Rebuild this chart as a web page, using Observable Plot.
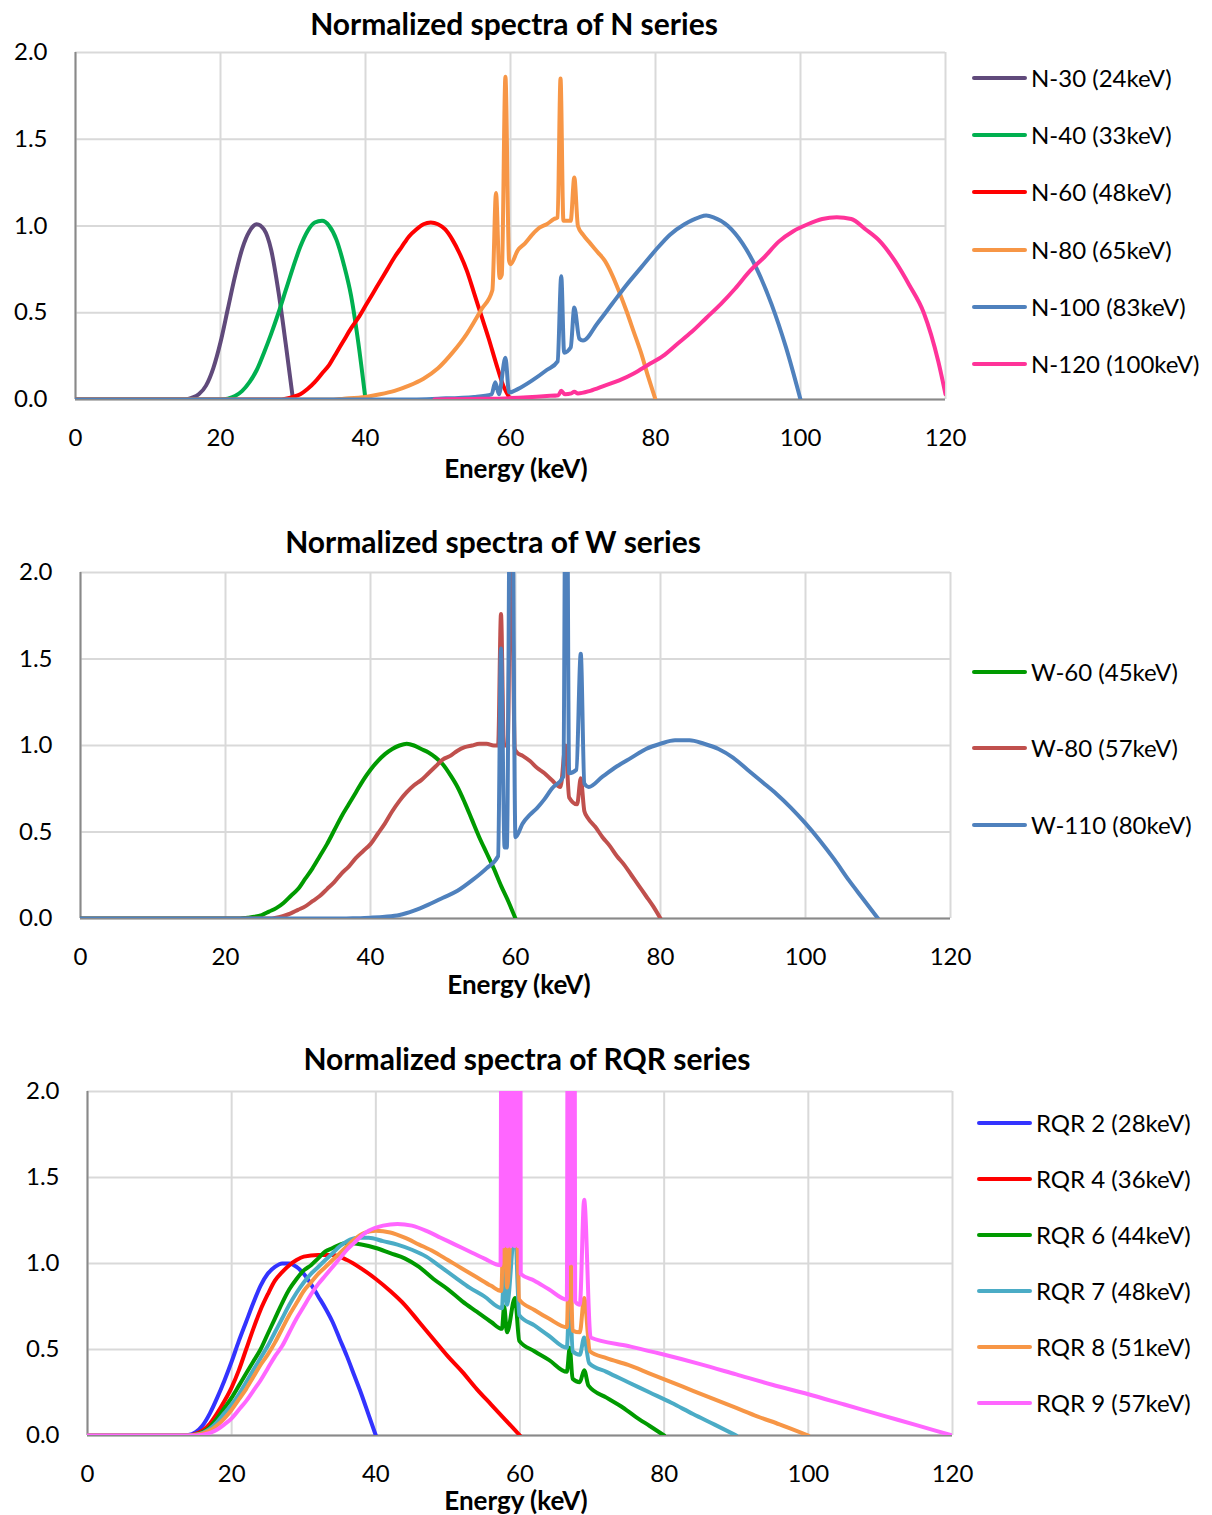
<!DOCTYPE html>
<html>
<head>
<meta charset="utf-8">
<script src="https://cdn.jsdelivr.net/npm/d3@7"></script>
<script src="https://cdn.jsdelivr.net/npm/@observablehq/plot@0.6"></script>
<style>
  html, body { margin: 0; padding: 0; background: #fff; }
  #page { position: relative; width: 1212px; height: 1515px; overflow: hidden; font-family: Lato, "Open Sans", sans-serif; color: #000; }
  .plot { position: absolute; left: 0; }
  .title { position: absolute; font-weight: bold; font-size: 30px; line-height: 0.8; white-space: nowrap; transform: translate(-50%, -50%); }
  .xlabel { position: absolute; font-weight: bold; font-size: 26px; line-height: 0.6; white-space: nowrap; transform: translate(-50%, -50%); }
  .leg { position: absolute; display: flex; align-items: center; transform: translateY(-50%); white-space: nowrap; font-size: 24px; line-height: 1; }
  .leg .sw { width: 55px; height: 4px; border-radius: 2px; margin-right: 4px; }
</style>
</head>
<body>
<div id="page"></div>
<script>
// ---------- tick labels ----------
const xTicks = [0, 20, 40, 60, 80, 100, 120];
const yTicks = [0, 0.5, 1.0, 1.5, 2.0];

// ---------- titles ----------
const titles = ["Normalized spectra of N series", "Normalized spectra of W series", "Normalized spectra of RQR series"];
const xTitle = "Energy (keV)";

// ---------- N series ----------
const nNames = ["N-30 (24keV)", "N-40 (33keV)", "N-60 (48keV)", "N-80 (65keV)", "N-100 (83keV)", "N-120 (100keV)"];
const nColors = ["#604a7b", "#00b050", "#ff0000", "#f79646", "#4f81bd", "#ff3399"];
const n30 = [[0,0],[15,0],[16,0.01],[17,0.03],[18,0.08],[19,0.18],[20,0.33],[21,0.52],[22,0.71],[23,0.87],[24,0.97],[25,1.01],[26,0.98],[27,0.86],[28,0.62],[29,0.32],[30,0]];
const n40 = [[0,0],[20,0],[21,0.005],[22,0.02],[23,0.05],[24,0.1],[25,0.17],[26,0.27],[27,0.38],[28,0.5],[29,0.63],[30,0.76],[31,0.88],[32,0.97],[33,1.02],[34,1.03],[35,1.0],[36,0.92],[37,0.78],[38,0.6],[39,0.33],[40,0]];
const n60 = [[0,0],[28,0],[29,0.005],[30,0.015],[31,0.03],[32,0.06],[33,0.1],[34,0.15],[35,0.2],[36,0.27],[37,0.34],[38,0.41],[39,0.47],[40,0.54],[41,0.61],[42,0.68],[43,0.75],[44,0.82],[45,0.88],[46,0.94],[47,0.98],[48,1.01],[49,1.02],[50,1.01],[51,0.98],[52,0.92],[53,0.84],[54,0.74],[55,0.61],[56,0.48],[57,0.35],[58,0.21],[59,0.08],[60,0]];
const n80 = [[0,0],[35,0],[37,0.005],[40,0.015],[42,0.03],[44,0.05],[46,0.08],[48,0.12],[50,0.18],[52,0.27],[54,0.38],[56,0.52],[57.5,0.63],[58,1.19],[58.5,0.7],[58.8,0.72],[59.3,1.86],[59.8,0.8],[60,0.78],[61,0.86],[62,0.9],[63,0.95],[64,0.99],[65,1.01],[66,1.04],[66.5,1.05],[66.9,1.85],[67.3,1.03],[68.3,1.03],[68.8,1.28],[69.3,1.0],[70,0.95],[71,0.9],[72,0.85],[73,0.8],[74,0.72],[75,0.62],[76,0.51],[77,0.39],[78,0.27],[79,0.13],[80,0]];
const n100 = [[0,0],[45,0],[50,0.005],[55,0.015],[57.4,0.03],[57.9,0.1],[58.4,0.03],[59.3,0.24],[59.8,0.04],[61,0.06],[63,0.11],[65,0.17],[66.5,0.22],[67,0.71],[67.4,0.27],[68.3,0.3],[68.8,0.53],[69.5,0.35],[70,0.34],[72,0.44],[74,0.55],[76,0.66],[78,0.76],[80,0.86],[82,0.95],[84,1.01],[86,1.05],[87,1.06],[88,1.05],[90,1.0],[92,0.9],[94,0.75],[96,0.55],[98,0.3],[100,0]];
const n120 = [[49.5,0],[55,0.003],[60,0.008],[65,0.02],[66.6,0.025],[67,0.05],[67.5,0.03],[68.4,0.035],[68.8,0.045],[69.3,0.035],[71,0.05],[73,0.08],[75,0.11],[77,0.15],[79,0.2],[81,0.25],[83,0.32],[85,0.39],[87,0.47],[89,0.55],[91,0.64],[93,0.74],[95,0.82],[97,0.91],[99,0.97],[101,1.01],[103,1.04],[105,1.05],[107,1.04],[109,0.98],[111,0.91],[113,0.8],[115,0.66],[117,0.5],[119,0.22],[120,0.03]];

// ---------- W series ----------
const wNames = ["W-60 (45keV)", "W-80 (57keV)", "W-110 (80keV)"];
const wColors = ["#009a00", "#c0504d", "#4f81bd"];
const w60 = [[0,0],[22,0],[23,0.005],[24,0.01],[25,0.02],[26,0.04],[27,0.06],[28,0.09],[29,0.13],[30,0.17],[31,0.23],[32,0.29],[33,0.36],[34,0.43],[35,0.51],[36,0.59],[37,0.66],[38,0.73],[39,0.8],[40,0.86],[41,0.91],[42,0.95],[43,0.98],[44,1.0],[45,1.01],[46,1.0],[47,0.98],[48,0.96],[49,0.93],[50,0.89],[51,0.83],[52,0.76],[53,0.67],[54,0.57],[55,0.47],[56,0.38],[57,0.29],[58,0.19],[59,0.1],[60,0]];
const w80 = [[0,0],[26,0],[27,0.005],[28,0.015],[29,0.03],[30,0.05],[31,0.07],[32,0.1],[33,0.13],[34,0.17],[35,0.21],[36,0.26],[37,0.3],[38,0.35],[39,0.39],[40,0.43],[41,0.49],[42,0.55],[43,0.62],[44,0.68],[45,0.73],[46,0.77],[47,0.8],[48,0.84],[49,0.88],[50,0.92],[51,0.94],[52,0.97],[53,0.99],[54,1.0],[55,1.01],[56,1.01],[57,1.0],[57.6,1.0],[58,1.76],[58.4,1.0],[58.9,1.0],[59.4,2.3],[59.9,0.98],[60.2,0.96],[61,0.94],[62,0.91],[63,0.87],[64,0.84],[65,0.8],[66.2,0.76],[66.9,1.0],[67.4,0.7],[68.5,0.66],[69,0.81],[69.5,0.62],[70,0.58],[71,0.53],[72,0.47],[73,0.42],[74,0.36],[75,0.31],[76,0.25],[77,0.19],[78,0.13],[79,0.07],[80,0]];
const w110 = [[0,0],[36,0],[38,0.002],[40,0.005],[42,0.01],[44,0.02],[46,0.045],[48,0.08],[50,0.12],[52,0.16],[54,0.22],[56,0.29],[57.6,0.36],[58,1.56],[58.5,0.41],[58.8,0.41],[59.4,3.5],[60,0.47],[61,0.55],[62,0.6],[63,0.64],[64,0.69],[65,0.75],[66.6,0.82],[67,3.5],[67.4,0.84],[68.4,0.86],[69,1.53],[69.5,0.78],[70.1,0.76],[72,0.82],[74,0.88],[76,0.93],[78,0.98],[80,1.01],[82,1.03],[84,1.03],[86,1.01],[88,0.98],[90,0.93],[92,0.86],[94,0.79],[96,0.72],[98,0.64],[100,0.55],[102,0.45],[104,0.34],[106,0.22],[108,0.11],[110,0]];

// ---------- RQR series ----------
const rNames = ["RQR 2 (28keV)", "RQR 4 (36keV)", "RQR 6 (44keV)", "RQR 7 (48keV)", "RQR 8 (51keV)", "RQR 9 (57keV)"];
const rColors = ["#3333ff", "#ff0000", "#009a00", "#4bacc6", "#f79646", "#ff66ff"];
const rqr2 = [[0,0],[13,0],[14,0.003],[15,0.02],[16,0.06],[17,0.13],[18,0.22],[19,0.32],[20,0.43],[21,0.55],[22,0.66],[23,0.77],[24,0.87],[25,0.94],[26,0.98],[27,1.0],[28,1.0],[29,0.98],[30,0.94],[31,0.88],[32,0.81],[33,0.74],[34,0.66],[35,0.56],[36,0.46],[37,0.35],[38,0.24],[39,0.12],[40,0]];
const rqr4 = [[0,0],[14,0],[15,0.01],[16,0.03],[17,0.07],[18,0.13],[19,0.2],[20,0.28],[21,0.38],[22,0.5],[23,0.62],[24,0.73],[25,0.82],[26,0.9],[27,0.95],[28,0.99],[29,1.02],[30,1.04],[32,1.05],[34,1.05],[36,1.02],[38,0.97],[40,0.91],[42,0.84],[44,0.76],[46,0.66],[48,0.56],[50,0.46],[52,0.37],[54,0.27],[56,0.18],[58,0.09],[60,0]];
const rqr6 = [[0,0],[14,0],[15,0.005],[16,0.02],[17,0.05],[18,0.1],[19,0.16],[20,0.22],[21,0.29],[22,0.36],[23,0.43],[24,0.5],[25,0.59],[26,0.68],[27,0.77],[28,0.85],[29,0.91],[30,0.96],[31,0.99],[32,1.03],[33,1.07],[34,1.09],[35,1.11],[36,1.12],[38,1.11],[40,1.09],[42,1.06],[44,1.03],[46,0.98],[48,0.91],[50,0.85],[52,0.78],[54,0.72],[56,0.66],[57.5,0.62],[57.8,0.75],[58.2,0.6],[59.3,0.8],[59.9,0.55],[62,0.49],[64,0.44],[66.5,0.37],[66.9,0.51],[67.3,0.33],[68.3,0.31],[68.9,0.38],[69.5,0.29],[72,0.22],[74,0.17],[76,0.11],[78,0.055],[80,0]];
const rqr7 = [[0,0],[14,0],[15,0.005],[16,0.015],[17,0.04],[18,0.08],[19,0.13],[20,0.18],[21,0.24],[22,0.31],[23,0.38],[24,0.45],[25,0.52],[26,0.6],[27,0.68],[28,0.76],[29,0.83],[30,0.89],[31,0.94],[32,0.98],[33,1.02],[34,1.06],[35,1.1],[36,1.13],[37.5,1.15],[39,1.15],[41,1.13],[43,1.11],[45,1.08],[47,1.04],[49,0.98],[51,0.92],[53,0.86],[55,0.81],[57.5,0.74],[57.8,1.0],[58.2,0.76],[59.3,1.2],[59.9,0.7],[62,0.64],[64,0.58],[66.5,0.51],[66.9,0.85],[67.3,0.49],[68.3,0.47],[68.9,0.57],[69.6,0.42],[72,0.37],[75,0.31],[78,0.25],[81,0.19],[84,0.125],[87,0.063],[90,0]];
const rqr8 = [[0,0],[14,0],[15,0.004],[16,0.012],[17,0.03],[18,0.06],[19,0.1],[20,0.15],[21,0.21],[22,0.27],[23,0.34],[24,0.41],[25,0.47],[26,0.54],[27,0.62],[28,0.7],[29,0.77],[30,0.84],[31,0.89],[32,0.94],[33,0.98],[34,1.02],[35,1.06],[36,1.1],[37,1.14],[38.5,1.18],[40,1.19],[42,1.18],[44,1.15],[46,1.11],[48,1.07],[50,1.02],[52,0.97],[54,0.92],[56,0.87],[57.4,0.84],[57.8,1.4],[58.2,0.86],[59.3,1.7],[59.9,0.79],[62,0.73],[64,0.68],[66.5,0.63],[66.9,1.3],[67.3,0.61],[68.3,0.6],[68.9,0.8],[69.7,0.49],[72,0.45],[75,0.41],[78,0.36],[81,0.31],[84,0.26],[87,0.21],[90,0.16],[93,0.11],[96,0.065],[100,0]];
const rqr9 = [[0,0],[15,0],[16,0.005],[17,0.015],[18,0.035],[19,0.065],[20,0.1],[21,0.15],[22,0.2],[23,0.26],[24,0.32],[25,0.39],[26,0.46],[27,0.52],[28,0.6],[29,0.68],[30,0.75],[31,0.82],[32,0.88],[33,0.93],[34,0.98],[35,1.03],[36,1.08],[37,1.12],[38,1.16],[39,1.19],[41,1.22],[43,1.23],[45,1.22],[47,1.19],[49,1.15],[51,1.11],[53,1.07],[55,1.03],[57.3,0.99],[57.5,5],[57.75,1.1],[58,6],[58.25,1.1],[58.5,5],[58.75,1.1],[59,6],[59.25,1.1],[59.5,6],[59.75,1.1],[60,5],[60.1,0.94],[62,0.9],[64,0.85],[66.5,0.79],[66.7,5],[66.9,1.0],[67.1,6],[67.3,1.0],[67.5,5],[67.65,0.78],[68.3,0.76],[68.9,1.37],[69.8,0.57],[75,0.52],[79.5,0.475],[85,0.415],[90,0.355],[95,0.295],[100,0.24],[105,0.18],[110,0.12],[115,0.06],[120,0]];

// ---------- layout of the three panels ----------
const panels = [
  { names: nNames, colors: nColors, series: [n30, n40, n60, n80, n100, n120],
    top: 40, ml: 75, pw: 870, mt: 12, ph: 347, title: titles[0], titleX: 514, titleY: 23, xlabX: 516, xlabY: 469,
    legX: 972, legY: [78, 135, 192, 250, 307, 364] },
  { names: wNames, colors: wColors, series: [w60, w80, w110],
    top: 560, ml: 80, pw: 870, mt: 12, ph: 346, title: titles[1], titleX: 493, titleY: 541, xlabX: 519, xlabY: 985,
    legX: 972, legY: [672, 748, 825] },
  { names: rNames, colors: rColors, series: [rqr2, rqr4, rqr6, rqr7, rqr8, rqr9],
    top: 1080, ml: 87, pw: 865, mt: 11, ph: 344, title: titles[2], titleX: 527, titleY: 1058, xlabX: 516, xlabY: 1501,
    legX: 977, legY: [1123, 1179, 1235, 1291, 1347, 1403] }
];

const page = document.getElementById("page");

for (const p of panels) {
  const rows = [];
  p.series.forEach((s, i) => s.forEach(([e, v]) => rows.push({ name: p.names[i], e, v })));
  const mr = 30, mb = 60;
  const chart = Plot.plot({
    width: p.ml + p.pw + mr,
    height: p.mt + p.ph + mb,
    marginLeft: p.ml, marginRight: mr, marginTop: p.mt, marginBottom: mb,
    style: { fontFamily: "Lato, 'Open Sans', sans-serif", background: "transparent", color: "#000", overflow: "visible" },
    x: { domain: [0, 120], ticks: xTicks },
    y: { domain: [0, 2], ticks: yTicks },
    color: { domain: p.names, range: p.colors },
    marks: [
      Plot.gridX(xTicks, { stroke: "#d9d9d9", strokeOpacity: 1, strokeWidth: 2 }),
      Plot.gridY(yTicks, { stroke: "#d9d9d9", strokeOpacity: 1, strokeWidth: 2 }),
      Plot.ruleX([0], { stroke: "#898989", strokeWidth: 2 }),
      Plot.ruleY([0], { stroke: "#898989", strokeWidth: 2 }),
      Plot.axisX(xTicks, { tickSize: 0, tickPadding: 29, fontSize: 24, label: null, tickFormat: d => String(d) }),
      Plot.axisY(yTicks, { tickSize: 0, tickPadding: 28, fontSize: 24, label: null, tickFormat: d3.format(".1f") }),
      Plot.line(rows, { x: "e", y: "v", z: "name", stroke: "name", strokeWidth: 4, curve: "monotone-x", strokeLinejoin: "round", strokeLinecap: "round", clip: true })
    ]
  });
  chart.classList.add("plot");
  chart.style.top = p.top + "px";
  page.appendChild(chart);

  const t = document.createElement("div");
  t.className = "title"; t.textContent = p.title;
  t.style.left = p.titleX + "px"; t.style.top = p.titleY + "px";
  page.appendChild(t);

  const xl = document.createElement("div");
  xl.className = "xlabel"; xl.textContent = xTitle;
  xl.style.left = p.xlabX + "px"; xl.style.top = p.xlabY + "px";
  page.appendChild(xl);

  p.names.forEach((n, i) => {
    const it = document.createElement("div");
    it.className = "leg";
    it.style.left = p.legX + "px"; it.style.top = p.legY[i] + "px";
    const sw = document.createElement("span");
    sw.className = "sw"; sw.style.background = p.colors[i];
    const tx = document.createElement("span");
    tx.textContent = n;
    it.appendChild(sw); it.appendChild(tx);
    page.appendChild(it);
  });
}
</script>
</body>
</html>
